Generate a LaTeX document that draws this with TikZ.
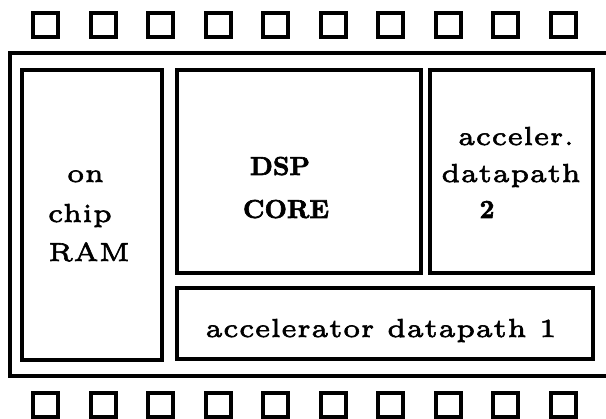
\documentclass[tikz,border=0pt]{standalone}
\usepackage{fontspec}
% small optical size of Latin Modern, slightly emboldened, for the labels
\newfontfamily\lblfont{lmroman5-regular}[Extension=.otf, FakeBold=2.2]
% heavy face for the emphasised labels
\newfontfamily\hvyfont{lmroman10-bold}[Extension=.otf, FakeBold=2.5]
\tikzset{
  wire/.style={line width=4pt, line join=miter},
  blockbox/.style={draw, line width=4pt, rectangle, inner sep=0pt},
  pinbox/.style={draw, line width=4pt, rectangle, inner sep=0pt,
                 minimum width=25pt, minimum height=24pt},
  lbl/.style={anchor=base, inner sep=0pt, scale=5.2,
              font=\lblfont\bfseries\fontsize{5}{6}\selectfont},
  blbl/.style={anchor=base, inner sep=0pt, scale=2.6,
               font=\hvyfont\bfseries\fontsize{10}{12}\selectfont},
}
\begin{document}
\begin{tikzpicture}[x=1pt, y=-1pt]
  \useasboundingbox (0,0) rectangle (606,419);

  % chip package outline, open to the right
  \coordinate (ftr) at (606,53);
  \coordinate (ftl) at (10,53);
  \coordinate (fbl) at (10,376.5);
  \coordinate (fbr) at (606,376.5);
  \draw[wire] (ftr) -- (ftl) -- (fbl) -- (fbr);

  % pins along the top and bottom edges
  \foreach \i in {0,...,9} {
    \node[pinbox] (pt\i) at ({45.5+57.5*\i},25) {};
    \node[pinbox] (pb\i) at ({45.5+57.5*\i},405) {};
  }

  % functional blocks
  \node[blockbox, minimum width=140pt, minimum height=290pt]   (ram) at (91.5,215) {};
  \node[blockbox, minimum width=244pt, minimum height=203.5pt] (dsp) at (299,171.75) {};
  \node[blockbox, minimum width=163pt, minimum height=203.5pt] (acc2) at (511.5,171.75) {};
  \node[blockbox, minimum width=416pt, minimum height=71pt]    (acc1) at (385,323.5) {};

  % labels
  \node[lbl] (ramA) at (85.5,182) {on};
  \node[lbl] (ramB) at (80,222) {chip};
  \node[lbl] (ramC) at (89,261) {RAM};

  \node[blbl] (dspA) at (280,175) {DSP};
  \node[blbl] (dspB) at (286,218) {CORE};

  \node[lbl] (accA) at (516,145) {acceler.};
  \node[lbl] (accB) at (511,182) {datapath};
  \node[blbl] (accC) at (487,218) {2};

  \node[lbl] (accD) at (381,337) {accelerator datapath 1};
\end{tikzpicture}
\end{document}
